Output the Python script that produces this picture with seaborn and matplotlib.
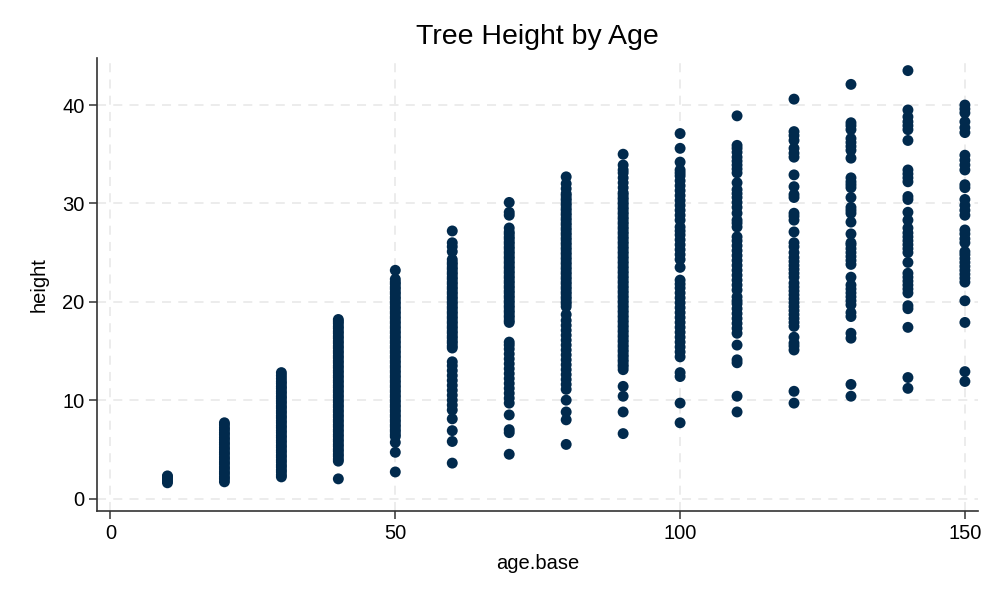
import numpy as np
import pandas as pd
import matplotlib
matplotlib.use("Agg")
import matplotlib.pyplot as plt
import seaborn as sns

# heights, one list per age class
ages = [10, 20, 30, 40, 50, 60, 70, 80, 90, 100, 110, 120, 130, 140, 150]

h10 = [1.6, 1.8, 2.0, 2.2, 2.3]
h20 = [1.7, 2.0, 2.2, 2.5, 2.7, 3.0, 3.2, 3.5, 3.7, 4.0, 4.2, 4.5, 4.7, 5.0,
       5.2, 5.5, 5.7, 6.0, 6.2, 6.5, 6.7, 7.0, 7.2, 7.5, 7.7]
h30 = [2.2, 2.7, 3.2, 3.7, 4.2, 4.7, 5.2, 5.7, 6.2, 6.7, 7.2, 7.7, 8.2, 8.7,
       9.2, 9.7, 10.2, 10.7, 11.2, 11.7, 12.2, 12.8,
       2.4, 2.9, 3.4, 3.9, 4.4, 4.9, 5.4, 5.9, 6.4, 6.9, 7.4, 7.9, 8.4, 8.9,
       9.4, 9.9, 10.4, 10.9, 11.4, 11.9, 12.5]
h40 = [2.0, 3.8, 4.3, 4.8, 5.3, 5.8, 6.3, 6.8, 7.3, 7.8, 8.3, 8.8, 9.3, 9.8,
       10.3, 10.8, 11.3, 11.8, 12.3, 12.8, 13.3, 13.8, 14.3, 14.8, 15.3, 15.8,
       16.3, 16.8, 17.3, 17.8, 18.2,
       4.0, 4.5, 5.0, 5.5, 6.0, 6.5, 7.0, 7.5, 8.0, 8.5, 9.0, 9.5, 10.0, 10.5,
       11.0, 11.5, 12.0, 12.5, 13.0, 13.5, 14.0, 14.5, 15.0, 15.5, 16.0, 16.5,
       17.0, 17.5, 18.0]
h50 = [2.7, 4.7, 5.7, 6.3, 6.8, 7.3, 7.8, 8.3, 8.8, 9.3, 9.8, 10.3, 10.8, 11.3,
       11.8, 12.3, 12.8, 13.3, 13.8, 14.3, 14.8, 15.3, 15.8, 16.3, 16.8, 17.3,
       17.8, 18.3, 18.8, 19.3, 19.8, 20.3, 20.8, 21.3, 21.8, 22.3, 23.2,
       6.5, 7.0, 7.5, 8.0, 8.5, 9.0, 9.5, 10.0, 10.5, 11.0, 11.5, 12.0, 12.5,
       13.0, 13.5, 14.0, 14.5, 15.0, 15.5, 16.0, 16.5, 17.0, 17.5, 18.0, 18.5,
       19.0, 19.5, 20.0, 20.5, 21.0, 21.5, 22.0]
h60 = [3.6, 5.8, 6.9, 8.1, 9.0, 9.5, 10.0, 10.5, 11.0, 11.5, 12.0, 12.5, 13.0,
       13.5, 13.9, 15.3, 15.8, 16.3, 16.8, 17.3, 17.8, 18.3, 18.8, 19.3, 19.8,
       20.3, 20.8, 21.3, 21.8, 22.3, 22.8, 23.3, 23.8, 24.3, 25.1, 25.6, 26.0,
       27.2, 15.5, 16.0, 16.5, 17.0, 17.5, 18.0, 18.5, 19.0, 19.5, 20.0, 20.5,
       21.0, 21.5, 22.0, 22.5, 23.0, 23.5, 24.0]
h70 = [4.5, 6.7, 7.0, 8.5, 9.7, 10.2, 10.7, 11.2, 11.7, 12.2, 12.7, 13.2, 13.7,
       14.2, 14.7, 15.2, 15.6, 15.9, 17.9, 18.4, 18.9, 19.4, 19.9, 20.4, 20.9,
       21.4, 21.9, 22.4, 22.9, 23.4, 23.9, 24.4, 24.9, 25.4, 25.9, 26.4, 26.9,
       27.5, 28.8, 29.1, 30.1, 18.1, 18.6, 19.1, 19.6, 20.1, 20.6, 21.1, 21.6,
       22.1, 22.6, 23.1, 23.6, 24.1, 24.6, 25.1, 25.6, 26.1, 26.6, 27.1]
h80 = [5.5, 8.0, 8.8, 10.0, 11.1, 11.6, 12.1, 12.6, 13.1, 13.6, 14.1, 14.6,
       15.1, 15.6, 16.1, 16.6, 17.1, 17.6, 18.1, 18.7, 19.5, 20.0, 20.5, 21.0,
       21.5, 22.0, 22.5, 23.0, 23.5, 24.0, 24.5, 25.0, 25.5, 26.0, 26.5, 27.0,
       27.5, 28.0, 28.5, 29.0, 29.5, 30.0, 30.5, 31.0, 31.5, 32.0, 32.7,
       19.8, 20.3, 20.8, 21.3, 21.8, 22.3, 22.8, 23.3, 23.8, 24.3, 24.8, 25.3,
       25.8, 26.3, 26.8, 27.3, 27.8, 28.3, 28.8, 29.3, 29.8, 30.3, 30.8]
h90 = [6.6, 8.8, 10.4, 11.4, 13.1, 13.6, 14.1, 14.6, 15.1, 15.6, 16.1, 16.6,
       17.1, 17.6, 18.1, 18.6, 19.1, 19.6, 20.1, 20.6, 21.1, 21.6, 22.1, 22.6,
       23.1, 23.6, 24.1, 24.6, 25.1, 25.6, 26.1, 26.6, 27.1, 27.6, 28.1, 28.6,
       29.1, 29.6, 30.1, 30.6, 31.1, 31.6, 32.1, 32.6, 33.1, 33.4, 33.9, 35.0,
       13.4, 13.9, 14.4, 14.9, 15.4, 15.9, 16.4, 16.9, 17.4, 17.9, 18.4, 18.9,
       19.4, 19.9, 20.4, 20.9, 21.4, 21.9, 22.4, 22.9, 23.4, 23.9, 24.4, 24.9,
       25.4, 25.9, 26.4, 26.9, 27.4, 27.9, 28.4, 28.9, 29.4, 29.9, 30.4, 30.9]
h100 = [7.7, 9.7, 12.4, 12.8, 14.4, 14.9, 15.4, 15.9, 16.4, 16.9, 17.4, 17.9,
        18.4, 18.9, 19.4, 19.9, 20.4, 20.9, 21.4, 21.8, 22.2, 23.5, 24.3, 24.8,
        25.3, 25.8, 26.3, 26.8, 27.2, 27.6, 28.3, 28.8, 29.3, 29.8, 30.3, 30.8,
        31.3, 31.8, 32.3, 32.8, 33.1, 33.4, 34.2, 35.6, 37.1]
h110 = [8.8, 10.4, 13.8, 14.1, 15.6, 16.8, 17.3, 17.8, 18.3, 18.8, 19.3, 19.8,
        20.1, 20.5, 21.2, 21.7, 22.2, 22.7, 23.2, 23.7, 24.2, 24.7, 25.2, 25.7,
        26.2, 26.6, 27.6, 28.0, 28.3, 29.0, 29.6, 30.1, 30.6, 31.0, 31.4, 32.1,
        33.1, 33.5, 33.9, 34.3, 34.7, 35.2, 35.6, 35.9, 38.9]
h120 = [9.7, 10.9, 15.1, 15.5, 15.8, 16.4, 17.5, 17.9, 18.3, 18.7, 19.1, 19.5,
        19.9, 20.3, 20.7, 21.1, 21.5, 21.9, 22.5, 22.9, 23.3, 23.7, 24.1, 24.5,
        25.0, 25.6, 26.0, 27.1, 28.3, 28.7, 29.0, 30.6, 30.9, 31.7, 32.9, 34.7,
        35.1, 35.6, 36.4, 36.9, 37.3, 40.6]
h130 = [10.4, 11.6, 16.3, 16.8, 18.5, 18.9, 19.7, 20.1, 20.5, 20.9, 21.3, 21.7,
        22.5, 23.8, 24.2, 24.6, 25.0, 25.4, 25.8, 26.0, 26.9, 28.1, 29.0, 29.3,
        29.6, 30.6, 31.6, 31.9, 32.2, 32.6, 34.6, 35.4, 35.8, 36.2, 36.6, 37.5,
        37.9, 38.2, 42.1]
h140 = [11.2, 12.3, 17.4, 19.3, 19.6, 20.9, 21.3, 21.7, 22.1, 22.5, 22.9, 24.0,
        25.0, 25.4, 25.8, 26.2, 26.6, 27.0, 27.5, 28.3, 29.1, 30.4, 30.7, 32.2,
        32.6, 33.0, 33.4, 36.4, 37.5, 37.9, 38.3, 38.8, 39.5, 43.5]
h150 = [11.9, 12.9, 17.9, 20.1, 22.0, 22.4, 22.8, 23.2, 23.6, 24.0, 24.4, 24.8,
        25.1, 26.0, 26.4, 26.9, 27.3, 28.8, 29.3, 29.8, 30.4, 31.6, 31.9, 33.4,
        33.9, 34.4, 34.9, 37.2, 37.7, 38.3, 39.2, 39.6, 40.0]

heights = [h10, h20, h30, h40, h50, h60, h70, h80, h90, h100, h110, h120,
           h130, h140, h150]

df = pd.DataFrame({
    "age.base": np.repeat(ages, [len(h) for h in heights]),
    "height": np.concatenate(heights),
})

sns.set_style("white")
plt.rcParams["font.family"] = ["Liberation Sans", "DejaVu Sans"]
plt.rcParams["text.color"] = "black"
plt.rcParams["axes.labelcolor"] = "black"

fig = plt.figure(figsize=(10, 6), dpi=100)
ax = fig.add_axes([0.097, 0.1483, 0.881, 0.755])

sns.scatterplot(data=df, x="age.base", y="height", ax=ax, s=62,
                color="#012a4d", edgecolor="none", linewidth=0, zorder=3)

ax.set_xlim(-2.37, 152.3)
ax.set_ylim(-1.27, 44.78)
ax.set_xticks([0, 50, 100, 150])
ax.set_yticks([0, 10, 20, 30, 40])

ax.grid(True, color="#ebebeb", linestyle=(0, (5, 4)), linewidth=1.3, zorder=0)
for side in ["top", "right"]:
    ax.spines[side].set_visible(False)
for side in ["left", "bottom"]:
    ax.spines[side].set_color("#333333")
    ax.spines[side].set_linewidth(1.2)

ax.tick_params(axis="both", direction="out", length=6, width=1.1,
               color="#333333", labelsize=14.5, pad=3, labelcolor="black")
ax.tick_params(axis="x", bottom=True)
ax.tick_params(axis="y", left=True)

ax.set_title("Tree Height by Age", fontsize=20.5, pad=10, color="black")
ax.set_xlabel("age.base", fontsize=14.5, labelpad=8)
ax.set_ylabel("height", fontsize=14.5, labelpad=10)

fig.savefig("out.png", dpi=100)
